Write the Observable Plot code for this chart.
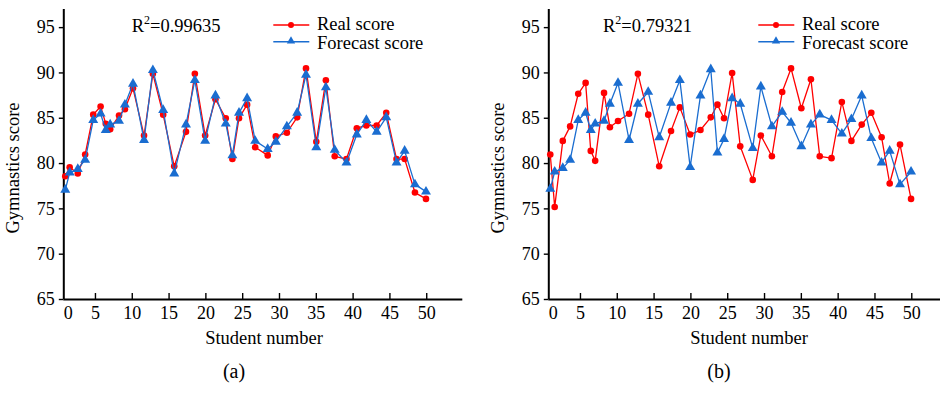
<!DOCTYPE html>
<html><head><meta charset="utf-8">
<script src="https://cdn.jsdelivr.net/npm/d3@7"></script>
<script src="https://cdn.jsdelivr.net/npm/@observablehq/plot@0.6"></script>
<style>
body{margin:0;background:#fff;}
#wrap{position:relative;width:943px;height:396px;overflow:hidden;background:#fff;}
.panel{position:absolute;top:0;}
.panel svg{overflow:visible;}
#overlay{position:absolute;left:0;top:0;pointer-events:none;}
</style></head><body><div id="wrap"></div>
<script>
// ---- data ----
const studentNumber = [0.9,1.5,2.6,3.6,4.7,5.7,6.4,7.0,8.2,9.0,10.1,11.6,12.8,14.2,15.7,17.3,18.5,19.9,21.3,22.7,23.6,24.5,25.6,26.7,28.4,29.5,31.0,32.4,33.6,35.0,36.3,37.5,39.1,40.5,41.8,43.2,44.5,45.9,47.0,48.4,49.9];
const realA = [78.6,79.6,78.9,81.0,85.4,86.3,84.4,83.8,85.3,86.0,88.3,83.1,89.9,85.4,79.7,83.5,89.9,83.1,87.1,85.0,80.5,85.0,86.5,81.8,80.9,83.0,83.4,85.1,90.5,82.4,89.2,80.8,80.5,83.9,84.2,84.2,85.6,80.5,80.5,76.8,76.1];
const forecastA = [77.1,79.0,79.4,80.4,84.8,85.5,83.7,84.3,84.7,86.5,88.8,82.6,90.3,85.9,78.9,84.3,89.2,82.5,87.5,84.4,80.9,85.6,87.2,82.5,81.6,82.4,84.1,85.6,89.8,81.8,88.4,81.5,80.1,83.2,84.8,83.5,85.1,80.1,81.4,77.7,76.9];
const realB = [81.0,75.2,82.5,84.1,87.7,88.9,81.4,80.3,87.8,84.0,84.7,85.5,89.9,85.4,79.7,83.6,86.2,83.2,83.7,85.1,86.5,85.0,90.0,81.9,78.2,83.1,80.8,87.9,90.5,86.1,89.3,80.8,80.6,86.8,82.5,84.3,85.6,82.9,77.8,82.1,76.1];
const forecastB = [77.2,79.1,79.5,80.4,84.8,85.6,83.7,84.4,84.7,86.6,88.9,82.6,86.6,87.9,82.9,86.7,89.2,79.6,87.5,90.4,81.2,82.7,87.2,86.6,81.7,88.5,84.1,85.7,84.5,81.9,84.3,85.4,84.8,83.3,84.9,87.5,82.8,80.1,81.4,77.7,79.1];
const xTickPositions = [1.3,5,10,15,20,25,30,35,40,45,50];
const xTickLabels = ["0","5","10","15","20","25","30","35","40","45","50"];
const xTickMarks = [5,10,15,20,25,30,35,40,45,50];
const yTicks = [65,70,75,80,85,90,95];
const seriesNames = ["Real score","Forecast score"];
const r2Values = ["0.99635","0.79321"];
const panelLabels = ["(a)","(b)"];

const RED = "#ff0000", BLUE = "#1a6dd0";
const FONT = "'Liberation Serif','Times New Roman',serif";
const yDomain = [65, 97];

function panel(real, forecast, width, marginRight, xMax) {
  const data = studentNumber.map((x, i) => ({x, real: real[i], forecast: forecast[i]}));
  const plotH = 290;
  const tickLen = 6 * (yDomain[1] - yDomain[0]) / plotH;
  return Plot.plot({
    width, height: 330, marginLeft: 63.3, marginRight, marginTop: 9, marginBottom: 31,
    style: {fontFamily: FONT, fontSize: "18px", color: "#000", background: "transparent", overflow: "visible"},
    x: {domain: [0.7, xMax], label: null},
    y: {domain: yDomain, label: null},
    marks: [
      Plot.axisY({ticks: yTicks, tickSize: 4.5, tickPadding: 4.5, strokeWidth: 1.4, fontSize: 18, label: null, tickFormat: d => String(d)}),
      Plot.axisX({ticks: xTickPositions, tickSize: 0, tickPadding: 6.5, fontSize: 18, label: null,
        tickFormat: d => xTickLabels[xTickPositions.indexOf(d)]}),
      Plot.ruleX(xTickMarks, {x: d => d, y1: yDomain[0], y2: yDomain[0] + tickLen, stroke: "#000", strokeWidth: 1.4}),
      Plot.ruleY([yDomain[0]], {stroke: "#000", strokeWidth: 2}),
      Plot.ruleX([0.7], {stroke: "#000", strokeWidth: 2}),
      Plot.line(data, {x: "x", y: "real", stroke: RED, strokeWidth: 1.3}),
      Plot.dot(data, {x: "x", y: "real", r: 3.3, fill: RED, stroke: "none"}),
      Plot.line(data, {x: "x", y: "forecast", stroke: BLUE, strokeWidth: 1.3}),
      Plot.dot(data, {x: "x", y: "forecast", symbol: "triangle", r: 3.7, fill: BLUE, stroke: "none"})
    ]
  });
}

const wrap = document.getElementById("wrap");
const pa = document.createElement("div"); pa.className = "panel"; pa.style.left = "0px";
pa.appendChild(panel(realA, forecastA, 470, 7.7, 54.9));
const pb = document.createElement("div"); pb.className = "panel"; pb.style.left = "485px";
pb.appendChild(panel(realB, forecastB, 458, 3, 53.9));
wrap.appendChild(pa); wrap.appendChild(pb);

// ---- overlay: axis titles, R², legends, captions ----
const svg = d3.select(wrap).append("svg").attr("id", "overlay")
  .attr("width", 943).attr("height", 396)
  .style("font-family", FONT).style("fill", "#000");

[{off: 0, r2x: 131.7, r2: r2Values[0], cap: panelLabels[0], ylx: 18.5},
 {off: 485, r2x: 603, r2: r2Values[1], cap: panelLabels[1], ylx: 504}].forEach(p => {
  svg.append("text").attr("transform", `translate(${p.ylx},168) rotate(-90)`)
    .attr("text-anchor", "middle").style("font-size", "18.5px").text("Gymnastics score");
  svg.append("text").attr("x", 264 + p.off).attr("y", 343.5)
    .attr("text-anchor", "middle").style("font-size", "18.5px").text("Student number");
  svg.append("text").attr("x", 234 + p.off).attr("y", 378)
    .attr("text-anchor", "middle").style("font-size", "20px").text(p.cap);
  const t = svg.append("text").attr("x", p.r2x).attr("y", 32).style("font-size", "18.5px");
  t.append("tspan").text("R");
  t.append("tspan").attr("dy", -8).style("font-size", "12px").text("2");
  t.append("tspan").attr("dy", 8).text("=" + p.r2);
  // legend
  const lx0 = 273.3 + p.off, lx1 = 309.3 + p.off, mx = 291 + p.off;
  svg.append("line").attr("x1", lx0).attr("x2", lx1).attr("y1", 25).attr("y2", 25)
    .attr("stroke", RED).attr("stroke-width", 1.4);
  svg.append("circle").attr("cx", mx).attr("cy", 25).attr("r", 3).attr("fill", RED);
  svg.append("text").attr("x", 317 + p.off).attr("y", 29.5).style("font-size", "18.5px").text(seriesNames[0]);
  svg.append("line").attr("x1", lx0).attr("x2", lx1).attr("y1", 41.7).attr("y2", 41.7)
    .attr("stroke", BLUE).attr("stroke-width", 1.4);
  svg.append("path").attr("d", d3.symbol(d3.symbolTriangle, 30)()).attr("transform", `translate(${mx},41)`)
    .attr("fill", BLUE);
  svg.append("text").attr("x", 317 + p.off).attr("y", 49.3).style("font-size", "18.5px").text(seriesNames[1]);
});
</script></body></html>
